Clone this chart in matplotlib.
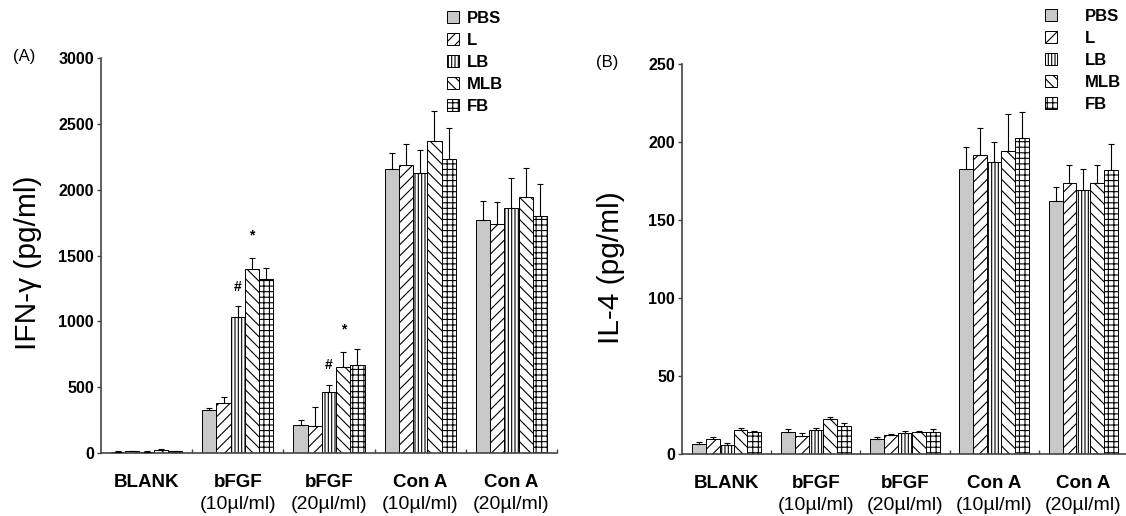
import matplotlib
matplotlib.use("Agg")
import matplotlib.pyplot as plt
import numpy as np

plt.rcParams['font.family'] = ['Liberation Sans', 'DejaVu Sans']
plt.rcParams['hatch.linewidth'] = 0.8

# categories
groups = ['BLANK', 'bFGF', 'bFGF', 'Con A', 'Con A']
doses = ['', '(10µl/ml)', '(20µl/ml)', '(10µl/ml)', '(20µl/ml)']
treatments = ['PBS', 'L', 'LB', 'MLB', 'FB']

# IFN-gamma (pg/ml), one list per treatment across the groups
ifn_pbs = [10, 326, 212, 2155, 1766]
ifn_l = [12, 376, 202, 2190, 1736]
ifn_lb = [10, 1030, 465, 2125, 1860]
ifn_mlb = [22, 1400, 656, 2372, 1943]
ifn_fb = [15, 1325, 666, 2230, 1799]
ifn_pbs_err = [3, 12, 35, 126, 149]
ifn_l_err = [3, 46, 149, 154, 174]
ifn_lb_err = [3, 85, 55, 174, 227]
ifn_mlb_err = [5, 81, 114, 227, 219]
ifn_fb_err = [3, 80, 124, 235, 247]

# IL-4 (pg/ml)
il4_pbs = [6.2, 14.3, 9.4, 183, 162]
il4_l = [9.4, 11.5, 12.0, 191.6, 174]
il4_lb = [5.8, 15.4, 13.7, 187, 169]
il4_mlb = [15.4, 22.6, 13.9, 194, 173.4]
il4_fb = [13.9, 18.0, 14.3, 202.5, 182]
il4_pbs_err = [1.5, 1.9, 1.3, 14, 9]
il4_l_err = [1.3, 2.2, 0.6, 17.4, 11]
il4_lb_err = [1.2, 1.3, 1.3, 13, 14]
il4_mlb_err = [1.1, 1.3, 0.6, 24, 11.6]
il4_fb_err = [1.1, 1.7, 1.7, 16.5, 17]

# significance marks on panel A: (group, treatment, symbol)
ifn_marks = [(1, 2, '#'), (1, 3, '*'), (2, 2, '#'), (2, 3, '*')]

fills = ['#c8c8c8', 'white', 'white', 'white', 'white']
hatches = [None, '///', '|||||', '\\\\\\', '+++']
axis_color = '#444444'
bar_w = 0.156


def draw_panel(ax, means, errs, ymax, ystep, marks=None):
    centers = np.arange(len(groups)) + 0.5
    for i, (m, e) in enumerate(zip(means, errs)):
        x = centers + (i - 2) * bar_w
        ax.bar(x, m, width=bar_w, color=fills[i], hatch=hatches[i],
               edgecolor='black', linewidth=0.7, label=treatments[i], zorder=2)
        ax.errorbar(x, m, yerr=[np.zeros(len(m)), e], fmt='none',
                    ecolor='black', elinewidth=0.8, capsize=2, capthick=0.8, zorder=3)
    if marks:
        for g, t, s in marks:
            x = centers[g] + (t - 2) * bar_w
            top = means[t][g] + errs[t][g]
            ax.annotate(s, xy=(x, top), xytext=(0, 9 if s == '#' else 11),
                        textcoords='offset points', ha='center', va='bottom',
                        fontsize=10, fontweight='bold')

    ax.set_xlim(0, len(groups))
    ax.set_ylim(0, ymax)
    ax.set_yticks(np.arange(0, ymax + 1, ystep))
    ax.tick_params(axis='y', direction='out', length=3, width=1, color=axis_color,
                   labelsize=11.5, pad=2)
    for lab in ax.get_yticklabels():
        lab.set_fontweight('bold')
    ax.set_xticks(centers)
    ax.set_xticklabels([])
    ax.tick_params(axis='x', which='major', length=0)
    ax.set_xticks(np.arange(1, len(groups) + 1), minor=True)
    ax.tick_params(axis='x', which='minor', direction='in', length=3, width=1, color=axis_color)

    for sp in ['top', 'right']:
        ax.spines[sp].set_visible(False)
    for sp in ['left', 'bottom']:
        ax.spines[sp].set_color(axis_color)
        ax.spines[sp].set_linewidth(1.2)

    for c, g, d in zip(centers, groups, doses):
        ax.annotate(g, xy=(c, 0), xycoords=('data', 'axes fraction'), xytext=(0, -21.5),
                    textcoords='offset points', ha='center', va='center',
                    fontsize=13.5, fontweight='bold')
        if d:
            ax.annotate(d, xy=(c, 0), xycoords=('data', 'axes fraction'), xytext=(0, -37),
                        textcoords='offset points', ha='center', va='center', fontsize=14)


W, H = 1126, 516
fig = plt.figure(figsize=(W / 100, H / 100), dpi=100)

ax1 = fig.add_axes([101 / W, 1 - 453 / H, 456 / W, 395 / H])
draw_panel(ax1, [ifn_pbs, ifn_l, ifn_lb, ifn_mlb, ifn_fb],
           [ifn_pbs_err, ifn_l_err, ifn_lb_err, ifn_mlb_err, ifn_fb_err],
           3000, 500, ifn_marks)

ax2 = fig.add_axes([682 / W, 1 - 454 / H, 446 / W, 390 / H])
draw_panel(ax2, [il4_pbs, il4_l, il4_lb, il4_mlb, il4_fb],
           [il4_pbs_err, il4_l_err, il4_lb_err, il4_mlb_err, il4_fb_err],
           250, 50)

fig.text(28 / W, 1 - 263 / H, 'IFN-γ (pg/ml)', rotation=90, ha='center', va='center',
         fontsize=21.5)
fig.text(611 / W, 1 - 268 / H, 'IL-4 (pg/ml)', rotation=90, ha='center', va='center',
         fontsize=21.5)
fig.text(24 / W, 1 - 57 / H, '(A)', ha='center', va='center', fontsize=12)
fig.text(607 / W, 1 - 62 / H, '(B)', ha='center', va='center', fontsize=12)

leg_kw = dict(loc='upper left', frameon=False, prop={'weight': 'bold', 'size': 12},
              handlelength=0.7, handleheight=0.7, labelspacing=0.42, borderpad=0,
              borderaxespad=0, bbox_transform=fig.transFigure)
ax1.legend(bbox_to_anchor=(447 / W, 1 - 11 / H), handletextpad=0.5, **leg_kw)
ax2.legend(bbox_to_anchor=(1045 / W, 1 - 9 / H), handletextpad=1.7, **leg_kw)

fig.savefig('out.png', dpi=100)
